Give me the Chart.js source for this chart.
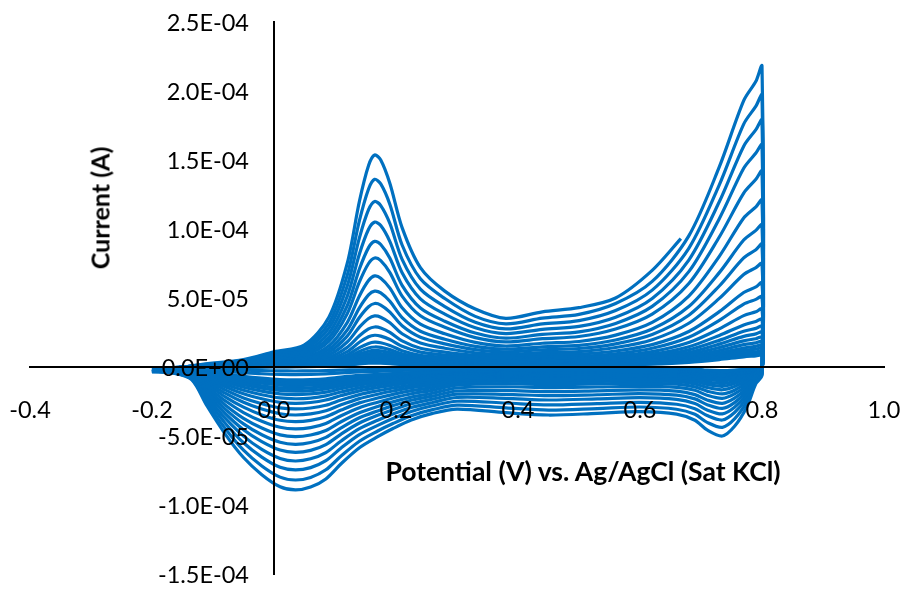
<!DOCTYPE html>
<html><head><meta charset="utf-8">
<script src="https://cdn.jsdelivr.net/npm/chart.js@4.4.1/dist/chart.umd.min.js"></script>
<style>
html,body{margin:0;padding:0;background:#fff;}
#wrap{position:relative;width:907px;height:592px;overflow:hidden;}
canvas{position:absolute;left:0;top:0;}
.ttl{position:absolute;font-family:Lato,"Open Sans",sans-serif;font-weight:bold;color:#000;white-space:nowrap;line-height:1;}
#ytitle{left:100px;top:208px;font-size:25px;transform:translate(-50%,-50%) rotate(-90deg);}
#xtitle{left:583px;top:471px;font-size:26.5px;transform:translate(-50%,-50%);}
</style></head>
<body><div id="wrap"><canvas id="c" width="907" height="592"></canvas>
<div class="ttl" id="ytitle">Current (A)</div>
<div class="ttl" id="xtitle">Potential (V) vs. Ag/AgCl (Sat KCl)</div></div>
<script>
// Tick labels
const xTickLabels = ['-0.4','-0.2','0.0','0.2','0.4','0.6','0.8','1.0'];
const yTickLabels = ['-1.5E-04','-1.0E-04','-5.0E-05','0.0E+00','5.0E-05','1.0E-04','1.5E-04','2.0E-04','2.5E-04'];

// Potentials (V) of the forward (anodic) and reverse (cathodic) scans
const forwardPotential = [-0.2,-0.12,-0.05,0,0.05,0.09,0.12,0.14,0.155,0.165,0.175,0.19,0.21,0.24,0.28,0.33,0.38,0.44,0.5,0.56,0.62,0.68,0.73,0.77,0.79,0.8];
const reversePotential = [0.8,0.79,0.775,0.755,0.735,0.71,0.69,0.66,0.6,0.53,0.45,0.38,0.3,0.26,0.225,0.195,0.17,0.14,0.11,0.085,0.06,0.035,0.01,-0.02,-0.05,-0.08,-0.11,-0.135,-0.165,-0.2];
// Last (interrupted) scan potentials
const lastScanPotential = [-0.2,-0.12,-0.05,0,0.05,0.09,0.12,0.14,0.155,0.165,0.175,0.19,0.21,0.24,0.28,0.33,0.38,0.44,0.5,0.56,0.62,0.667];

// Currents in microamperes, cycle 1 (smallest) to cycle 22
const fwd01 = [-0.8,0,0.1,0.2,0.3,0.7,1.4,2.2,2.7,2.8,2.7,2.4,1.8,1.3,1.1,0.9,0.9,1,1,1.3,2,3.4,5.4,7.4,8,8.4];
const rev01 = [-0.3,-0.6,-1.5,-2.2,-2.6,-2.3,-1.4,-1,-0.8,-0.8,-0.8,-0.8,-1,-1.2,-1.4,-1.6,-1.8,-2,-2.3,-2.6,-2.8,-2.9,-2.8,-2.6,-2.3,-2,-1.8,-2,-1.8,-1.6];
const fwd02 = [-0.9,0,0.1,0.3,0.4,0.8,1.7,2.7,3.3,3.5,3.4,3,2.3,1.7,1.4,1.2,1.1,1.2,1.3,1.7,2.5,4.1,6.5,8.8,9.5,10];
const rev02 = [-0.4,-0.7,-1.7,-2.6,-3,-2.7,-1.7,-1.3,-1.2,-1.2,-1.2,-1.2,-1.7,-2,-2.3,-2.7,-3.1,-3.6,-4.3,-5,-5.4,-5.5,-5.4,-4.9,-4.1,-3.2,-2.2,-2.3,-1.9,-1.7];
const fwd03 = [-0.9,0.1,0.1,0.3,0.4,1,2,3.3,4,4.2,4.1,3.6,2.8,2,1.7,1.4,1.3,1.4,1.6,2,2.9,4.8,7.5,10.2,11,11.6];
const rev03 = [-0.4,-0.8,-2,-2.9,-3.4,-3,-2.4,-2.1,-2,-2,-2.1,-2,-2.5,-3.5,-4,-4.7,-5.3,-6.1,-7.3,-8.5,-9.1,-9.3,-9.1,-8.1,-6.8,-5.1,-2.9,-2.7,-2.1,-1.7];
const fwd04 = [-1,0.1,0.2,0.4,0.5,1.2,2.4,3.9,4.8,5,4.9,4.3,3.3,2.4,2,1.7,1.6,1.7,1.9,2.4,3.5,5.6,8.9,12,13,13.7];
const rev04 = [-0.5,-0.9,-2.3,-3.4,-3.9,-3.5,-2.8,-2.4,-2.2,-2.3,-2.4,-2.3,-2.9,-4,-4.5,-5.3,-6,-6.9,-8.3,-9.6,-10.3,-10.5,-10.2,-9.2,-7.7,-5.7,-3.3,-2.8,-2.2,-1.7];
const fwd05 = [-1,0.1,0.2,0.4,0.6,1.4,2.9,4.6,5.6,5.9,5.8,5.1,3.9,2.8,2.4,1.9,1.8,2,2.2,2.8,4,6.5,10.3,13.8,15,15.8];
const rev05 = [-0.5,-1.1,-2.6,-3.8,-4.4,-3.9,-3.2,-2.7,-2.6,-2.7,-2.8,-2.7,-3.2,-4.5,-5.2,-6,-6.8,-7.9,-9.4,-10.9,-11.7,-12,-11.7,-10.5,-8.8,-6.5,-3.8,-3.1,-2.4,-1.8];
const fwd06 = [-1.1,0.1,0.2,0.5,0.7,1.6,3.4,5.5,6.7,7,6.8,6.1,4.6,3.4,2.8,2.3,2.2,2.4,2.6,3.3,4.7,7.6,12,16.2,17.5,18.4];
const rev06 = [-0.6,-1.2,-2.9,-4.3,-5,-4.5,-3.7,-3.1,-3,-3.1,-3.2,-3,-3.7,-5.1,-5.8,-6.8,-7.7,-8.9,-10.6,-12.3,-13.2,-13.5,-13.1,-11.8,-9.9,-7.4,-4.3,-3.3,-2.6,-1.8];
const fwd07 = [-1.1,0.1,0.3,0.6,0.9,2,4.1,6.6,8,8.4,8.2,7.3,5.5,4,3.4,2.8,2.6,2.9,3.1,3.9,5.6,9,14.1,18.9,20.5,21.5];
const rev07 = [-0.7,-1.4,-3.4,-5,-5.8,-5.2,-4.2,-3.6,-3.4,-3.6,-3.7,-3.5,-4.2,-5.8,-6.7,-7.8,-8.8,-10.2,-12.2,-14.1,-15.1,-15.5,-15.1,-13.6,-11.4,-8.4,-4.9,-4.1,-2.8,-1.8];
const fwd08 = [-1.2,0.1,0.4,0.7,1.1,2.3,4.9,7.8,9.5,10,9.8,8.7,6.6,4.8,4,3.3,3.1,3.5,3.7,4.7,6.6,10.5,16.6,22.2,24,25.2];
const rev08 = [-0.8,-1.6,-3.8,-5.7,-6.6,-5.9,-4.8,-4.1,-3.9,-4.1,-4.2,-4,-4.8,-6.6,-7.5,-8.8,-9.9,-11.5,-13.8,-15.9,-17.1,-17.5,-17,-15.3,-12.9,-9.5,-5.5,-4.2,-2.9,-1.9];
const fwd09 = [-1.2,0.1,0.4,0.9,1.3,2.8,5.9,9.4,11.4,12,11.7,10.4,7.9,5.8,4.8,4,3.7,4.1,4.4,5.5,7.8,12.4,19.3,25.9,28,29.4];
const rev09 = [-0.9,-1.8,-4.4,-6.5,-7.6,-6.8,-5.6,-4.8,-4.6,-4.7,-4.9,-4.7,-5.6,-7.5,-8.6,-10,-11.3,-13.1,-15.7,-18.2,-19.5,-20,-19.5,-17.5,-14.7,-10.9,-6.3,-4.4,-2.9,-1.9];
const fwd10 = [-1.3,0.2,0.5,1,1.5,3.4,7.1,11.3,13.8,14.5,14.2,12.6,9.6,7,5.8,4.8,4.5,5,5.4,6.7,9.3,14.7,22.9,30.5,33,34.6];
const rev10 = [-1,-2.1,-5,-7.5,-8.7,-7.8,-6.5,-5.6,-5.3,-5.5,-5.7,-5.4,-6.4,-8.7,-9.9,-11.5,-13,-15.1,-18.1,-20.9,-22.5,-23,-22.4,-20.1,-16.9,-12.5,-7.2,-4.6,-3,-2];
const fwd11 = [-1.2,0.2,0.6,1.3,1.9,4.2,8.8,14,17.1,18,17.6,15.6,11.8,8.5,7,5.6,5.2,5.8,6.3,7.9,11.1,17.7,27.6,37.2,40,42];
const rev11 = [-1.2,-2.4,-5.8,-8.6,-10,-9,-7.5,-6.5,-6.1,-6.4,-6.6,-6.3,-7.4,-9.9,-11.3,-13.2,-14.9,-17.3,-20.7,-23.9,-25.7,-26.3,-25.6,-23,-19.4,-14.3,-8.3,-4.8,-3.1,-2.1];
const fwd12 = [-1.3,0.3,0.8,1.7,2.5,5.4,11.2,17.9,21.9,23,22.4,19.9,15,10.8,8.7,6.9,6.4,7.1,7.7,9.6,13.6,21.6,33.8,45.6,49,51];
const rev12 = [-1.4,-2.9,-7,-10.3,-12,-10.8,-8.9,-7.6,-7.3,-7.5,-7.8,-7.4,-8.6,-11.5,-13.1,-15.2,-17.2,-20,-23.9,-27.7,-29.7,-30.4,-29.6,-26.6,-22.4,-16.6,-9.6,-5.1,-3.2,-2.1];
const fwd13 = [-1.4,0.4,1,2.1,3.1,6.8,14.2,22.6,27.6,29,28.3,25.1,18.9,13.6,10.8,8.4,7.7,8.6,9.3,11.6,16.2,25.7,40.1,54,58,61];
const rev13 = [-1.7,-3.4,-8.1,-12,-14,-12.6,-10.4,-9,-8.6,-8.9,-9.2,-8.7,-9.9,-13.1,-15,-17.4,-19.7,-22.9,-27.4,-31.7,-34,-34.8,-33.9,-30.5,-25.6,-19,-11,-5.4,-3.3,-2.2];
const fwd14 = [-1.6,0.5,1.3,2.7,3.9,8.7,18.1,28.9,35.2,37,36.1,32,24.1,17.4,13.6,10.3,9.2,10.4,11.2,14.1,19.8,31.7,49.7,67,72,75];
const rev14 = [-2,-4,-9.6,-14.2,-16.5,-14.8,-12.2,-10.6,-10,-10.4,-10.8,-10.3,-11.5,-14.9,-17.1,-19.8,-22.5,-26,-31.2,-36,-38.7,-39.6,-38.6,-34.7,-29.1,-21.6,-12.5,-5.8,-3.4,-2.3];
const fwd15 = [-1.8,0.6,1.6,3.3,4.8,10.8,22.4,35.9,43.7,46,44.9,39.8,29.9,21.6,16.8,12.6,11,12.5,13.4,16.8,23.6,37.5,58.7,79,85,89];
const rev15 = [-2.3,-4.7,-11.3,-16.8,-19.5,-17.5,-14.4,-12.4,-11.8,-12.3,-12.7,-12.1,-13.2,-16.9,-19.4,-22.5,-25.5,-29.5,-35.3,-40.9,-43.9,-44.9,-43.7,-39.3,-33,-24.5,-14.1,-6.1,-3.5,-2.4];
const fwd16 = [-2,0.7,1.9,4,5.8,12.9,26.8,42.9,52.3,55,53.7,47.6,35.8,25.9,20.1,14.9,12.9,14.6,15.7,19.6,27.5,43.8,68.4,92,99,103];
const rev16 = [-2.7,-5.4,-13.2,-19.5,-22.7,-20.5,-16.9,-14.7,-14,-14.5,-15,-14.3,-15.2,-19,-21.8,-25.3,-28.6,-33.2,-39.7,-46,-49.3,-50.5,-49.2,-44.2,-37.2,-27.5,-15.9,-6.5,-3.6,-2.6];
const fwd17 = [-2.2,0.8,2.3,4.8,6.9,15.4,32.2,51.5,62.7,66,64.4,57.2,42.9,31,24.1,17.8,15.2,17.2,18.5,23.1,32.3,51.4,80.2,108,116,121];
const rev17 = [-3.2,-6.3,-15.3,-22.6,-26.3,-23.9,-20,-17.5,-16.6,-17.3,-17.9,-17,-17.4,-21.1,-24.1,-28,-31.8,-36.8,-44.1,-51,-54.7,-56,-54.5,-49.1,-41.2,-30.5,-17.6,-6.9,-3.7,-2.7];
const fwd18 = [-2.4,1,2.8,5.7,8.3,18.5,38.6,61.6,75,79,77.1,68.4,51.4,37.1,28.8,21.3,18.2,20.5,22.1,27.5,38.3,60.5,94.2,126,136,142];
const rev18 = [-3.6,-7.2,-17.4,-25.8,-30,-27.3,-23.1,-20.4,-19.3,-20.1,-20.8,-19.8,-19.7,-23.3,-26.6,-30.9,-35,-40.6,-48.6,-56.2,-60.4,-61.8,-60.2,-54.1,-45.5,-33.7,-19.5,-7.3,-3.9,-2.8];
const fwd19 = [-2.6,1.1,3.2,6.6,9.6,21.3,44.4,71,86.5,91,88.8,78.8,59.2,42.8,33.2,24.6,20.9,23.7,25.5,31.6,43.9,69.1,107.5,144,155,161];
const rev19 = [-4.1,-8.2,-19.7,-29.2,-34,-31.1,-26.4,-23.4,-22.2,-23.1,-23.9,-22.7,-22.1,-25.7,-29.4,-34.1,-38.6,-44.7,-53.6,-62,-66.5,-68.1,-66.3,-59.7,-50.1,-37.1,-21.5,-7.8,-4,-2.9];
const fwd20 = [-2.8,1.3,3.7,7.6,11,24.6,51.2,81.9,99.8,105,102.5,90.9,68.3,49.4,38.3,28.4,24.2,27.3,29.4,36.1,49.7,77.5,119.7,160,172,179];
const rev20 = [-4.6,-9.2,-22.3,-33,-38.4,-35.2,-30.2,-27,-25.6,-26.5,-27.5,-26.1,-24.8,-28.1,-32.2,-37.3,-42.3,-49,-58.7,-67.9,-72.9,-74.6,-72.7,-65.3,-54.9,-40.7,-23.5,-8.2,-4.1,-3.1];
const fwd21 = [-3.1,1.4,4.2,8.6,12.6,28.1,58.6,93.6,114,120,117,104,78,56.4,43.8,32.4,27.6,31.2,33.6,40.9,55.7,86,132,176,189,197];
const rev21 = [-5.2,-10.5,-25.3,-37.6,-43.7,-40.1,-34.3,-30.6,-29,-30.1,-31.2,-29.6,-27.6,-30.9,-35.3,-41,-46.4,-53.8,-64.5,-74.5,-80,-81.9,-79.8,-71.7,-60.3,-44.6,-25.8,-8.7,-4.3,-3.2];
const fwd22 = [-3.4,1.6,4.8,9.8,14.3,31.8,66.4,106,129,136,132.7,117.8,88.4,63.9,49.6,36.7,31.3,35.4,38.1,46,62,95,145,193,207,218];
const rev22 = [-6,-12,-29,-43,-50,-45.6,-38.6,-34.1,-32.4,-33.6,-34.8,-33.1,-30.5,-33.6,-38.4,-44.6,-50.5,-58.5,-70.1,-81.1,-87,-89.1,-86.8,-78,-65.6,-48.6,-28.1,-9.2,-4.5,-3.4];
// Cycle 23: interrupted forward scan
const fwd23 = [-3.5,1.8,5.4,11,16,36,75,120,146,153.6,150,133,101,72,55,42,35.3,40,43,50,70,93];

const forwardScans = [fwd01,fwd02,fwd03,fwd04,fwd05,fwd06,fwd07,fwd08,fwd09,fwd10,fwd11,fwd12,fwd13,fwd14,fwd15,fwd16,fwd17,fwd18,fwd19,fwd20,fwd21,fwd22];
const reverseScans = [rev01,rev02,rev03,rev04,rev05,rev06,rev07,rev08,rev09,rev10,rev11,rev12,rev13,rev14,rev15,rev16,rev17,rev18,rev19,rev20,rev21,rev22];

const lineStyle = {showLine:true, borderColor:'#0070C0', backgroundColor:'#0070C0', borderWidth:3.2, pointRadius:0, pointHoverRadius:0, tension:0.3, fill:false};
const datasets = forwardScans.map((f, i) => Object.assign({
  data: forwardPotential.map((v, j) => ({x: v, y: f[j] * 1e-6}))
        .concat(reversePotential.map((v, j) => ({x: v, y: reverseScans[i][j] * 1e-6})))
}, lineStyle));
datasets.push(Object.assign({data: lastScanPotential.map((v, j) => ({x: v, y: fwd23[j] * 1e-6}))}, lineStyle));

const FONT_FAMILY = 'Lato, "Open Sans", sans-serif';
const tickFont = {family: FONT_FAMILY, size: 23.5};
const noScalePadding = (scale) => { scale.paddingLeft = 0; scale.paddingRight = 0; scale.paddingTop = 0; scale.paddingBottom = 0; };

// Y tick labels drawn left of the crossing vertical axis, on top of the data
const yLabelPlugin = {
  id: 'yLabels',
  afterDraw(chart) {
    const {ctx, scales: {x, y}} = chart;
    const x0 = x.getPixelForValue(0);
    ctx.save();
    ctx.font = tickFont.size + 'px ' + FONT_FAMILY;
    ctx.fillStyle = '#000';
    ctx.textAlign = 'right';
    ctx.textBaseline = 'middle';
    y.ticks.forEach((t) => {
      const idx = Math.round((t.value + 1.5e-4) / 5e-5);
      ctx.fillText(yTickLabels[idx], x0 - 25, y.getPixelForValue(t.value) + 1);
    });
    ctx.restore();
  }
};

new Chart(document.getElementById('c'), {
  type: 'scatter',
  data: {datasets},
  plugins: [yLabelPlugin],
  options: {
    responsive: false, animation: false, devicePixelRatio: 1,
    layout: {padding: {left: 30, right: 23, top: 22, bottom: 18}},
    plugins: {legend: {display: false}, tooltip: {enabled: false}},
    scales: {
      x: {
        type: 'linear', min: -0.4, max: 1.0, position: {y: 0},
        afterFit: noScalePadding,
        grid: {display: false, drawTicks: false},
        border: {display: true, color: '#000', width: 2, z: 1},
        ticks: {z: 1, stepSize: 0.2, autoSkip: false, maxRotation: 0, padding: 29, color: '#000', font: tickFont,
          callback: (v) => xTickLabels[Math.round((v + 0.4) / 0.2)]}
      },
      y: {
        type: 'linear', min: -1.5e-4, max: 2.5e-4, position: {x: 0},
        afterFit: noScalePadding,
        grid: {display: false, drawTicks: false},
        border: {display: true, color: '#000', width: 2, z: 1},
        ticks: {stepSize: 5e-5, display: false}
      }
    }
  }
});
</script>
</body></html>
